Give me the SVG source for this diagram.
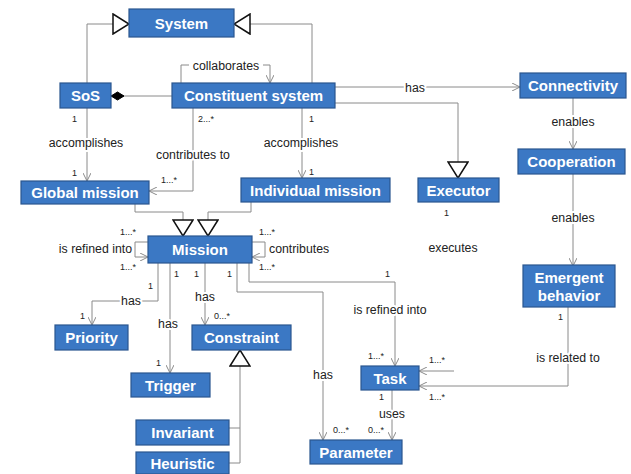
<svg xmlns="http://www.w3.org/2000/svg" width="631" height="474" viewBox="0 0 631 474">
<defs>
<style>
.box{fill:#3b78c4;stroke:#2a568f;stroke-width:1.2}
.bt{font-family:"Liberation Sans",Arial,sans-serif;font-size:15px;font-weight:bold;fill:#fff;text-anchor:middle}
.ln{fill:none;stroke:#8a8a8a;stroke-width:1}
.lb{font-family:"Liberation Sans",Arial,sans-serif;font-size:12.3px;fill:#222;paint-order:stroke;stroke:#fff;stroke-width:4px;stroke-linejoin:round}
.m{font-family:"Liberation Sans",Arial,sans-serif;font-size:9px;fill:#222}
.c{text-anchor:middle}
.r{text-anchor:end}
</style>
<marker id="arr" viewBox="0 0 8 8" refX="8" refY="4" markerWidth="8" markerHeight="8" markerUnits="userSpaceOnUse" orient="auto">
<path d="M0,0 L8,4 L0,8" fill="none" stroke="#8a8a8a" stroke-width="1"/>
</marker>
<marker id="tri" viewBox="-1 -1 18 22" refX="16" refY="10" markerWidth="18" markerHeight="22" markerUnits="userSpaceOnUse" orient="auto">
<path d="M0,0 L16,10 L0,20 Z" fill="#fff" stroke="#111" stroke-width="1.5"/>
</marker>
<marker id="dia" viewBox="-1 -1 15 10" refX="13" refY="4" markerWidth="15" markerHeight="10" markerUnits="userSpaceOnUse" orient="auto">
<path d="M0,4 L6.5,0 L13,4 L6.5,8 Z" fill="#000" stroke="#000" stroke-width="1"/>
</marker>
</defs>
<rect width="631" height="474" fill="#fff"/>

<g id="connectors">
<path class="ln" d="M87,83 V24 H129" marker-end="url(#tri)"/>
<path class="ln" d="M312,83 V24 H234" marker-end="url(#tri)"/>
<path class="ln" d="M172,96 H111" marker-end="url(#dia)"/>
<path class="ln" d="M181,83 V65 H189"/>
<path class="ln" d="M263,65 H270 V83" marker-end="url(#arr)"/>
<text class="lb c" x="226" y="70">collaborates</text>

<path class="ln" d="M87,108 V181" marker-end="url(#arr)"/>
<text class="m" x="72" y="122">1</text>
<text class="lb c" x="86" y="147">accomplishes</text>
<text class="m" x="72" y="176">1</text>

<path class="ln" d="M193,108 V191 H149" marker-end="url(#arr)"/>
<text class="m" x="198" y="122">2...*</text>
<text class="lb c" x="193" y="159">contributes to</text>
<text class="m" x="161" y="183">1...*</text>

<path class="ln" d="M302,108 V178" marker-end="url(#arr)"/>
<text class="m" x="309" y="122">1</text>
<text class="lb c" x="301" y="147">accomplishes</text>
<text class="m" x="309" y="175">1</text>

<path class="ln" d="M335,87 H520" marker-end="url(#arr)"/>
<text class="lb c" x="415" y="92">has</text>

<path class="ln" d="M335,103 H458 V178" marker-end="url(#tri)"/>

<path class="ln" d="M573,98 V149" marker-end="url(#arr)"/>
<text class="lb c" x="573" y="126">enables</text>
<path class="ln" d="M573,174 V266" marker-end="url(#arr)"/>
<text class="lb c" x="573" y="222">enables</text>

<path class="ln" d="M135,204 V212 H183 V236" marker-end="url(#tri)"/>
<path class="ln" d="M251,202 V212 H208 V236" marker-end="url(#tri)"/>

<path class="ln" d="M148,242 H135 V257 H148" marker-end="url(#arr)"/>
<text class="m" x="120" y="235">1...*</text>
<text class="m" x="120" y="270">1...*</text>
<text class="lb r" x="132" y="253">is refined into</text>

<path class="ln" d="M252,242 H265 V257 H252" marker-end="url(#arr)"/>
<text class="m" x="259" y="235">1...*</text>
<text class="m" x="259" y="270">1...*</text>
<text class="lb" x="269" y="253">contributes</text>

<path class="ln" d="M158,263 V301 H92 V325" marker-end="url(#arr)"/>
<text class="m" x="148" y="289">1</text>
<text class="lb c" x="131" y="305">has</text>
<text class="m" x="80" y="319">1</text>

<path class="ln" d="M170,263 V373" marker-end="url(#arr)"/>
<text class="m" x="174" y="277">1</text>
<text class="lb c" x="168" y="328">has</text>
<text class="m" x="156" y="366">1</text>

<path class="ln" d="M205,263 V325" marker-end="url(#arr)"/>
<text class="m" x="194" y="277">1</text>
<text class="lb c" x="205" y="301">has</text>
<text class="m" x="214" y="319">0...*</text>

<path class="ln" d="M237,263 V292 H323 V440" marker-end="url(#arr)"/>
<text class="m" x="227" y="277">1</text>
<text class="lb c" x="323" y="379">has</text>
<text class="m" x="333" y="433">0...*</text>

<path class="ln" d="M249,263 V282 H395 V366" marker-end="url(#arr)"/>
<text class="m" x="385" y="277">1</text>
<text class="lb c" x="390" y="314">is refined into</text>
<text class="m" x="368" y="359">1...*</text>

<text class="m" x="444" y="216">1</text>
<text class="lb c" x="453" y="252">executes</text>
<path class="ln" d="M454,371 H419" marker-end="url(#arr)"/>
<text class="m" x="429" y="363">1...*</text>

<path class="ln" d="M568,307 V386 H419" marker-end="url(#arr)"/>
<text class="m" x="558" y="320">1</text>
<text class="lb c" x="568" y="362">is related to</text>
<text class="m" x="429" y="400">1...*</text>

<path class="ln" d="M392,390 V440" marker-end="url(#arr)"/>
<text class="m" x="379" y="400">1</text>
<text class="lb c" x="392" y="418">uses</text>
<text class="m" x="368" y="433">0...*</text>

<path class="ln" d="M229,428 H240"/>
<path class="ln" d="M229,463 H240 V350" marker-end="url(#tri)"/>
</g>

<g id="System"><rect class="box" x="129" y="9" width="105" height="28"/><text class="bt" x="181.5" y="28.5">System</text></g>
<g id="SoS"><rect class="box" x="60" y="83" width="51" height="25"/><text class="bt" x="85.5" y="101">SoS</text></g>
<g id="ConstituentSystem"><rect class="box" x="172" y="83" width="163" height="25"/><text class="bt" x="253.5" y="101">Constituent system</text></g>
<g id="Connectivity"><rect class="box" x="520" y="73" width="106" height="25"/><text class="bt" x="573" y="91">Connectivity</text></g>
<g id="Cooperation"><rect class="box" x="518" y="149" width="107" height="25"/><text class="bt" x="571.5" y="167">Cooperation</text></g>
<g id="GlobalMission"><rect class="box" x="21" y="181" width="128" height="23"/><text class="bt" x="85" y="198">Global mission</text></g>
<g id="IndividualMission"><rect class="box" x="241" y="178" width="149" height="24"/><text class="bt" x="315.5" y="195.5">Individual mission</text></g>
<g id="Executor"><rect class="box" x="418" y="178" width="81" height="24"/><text class="bt" x="458.5" y="195.5">Executor</text></g>
<g id="Mission"><rect class="box" x="148" y="236" width="104" height="27"/><text class="bt" x="200" y="254.5">Mission</text></g>
<g id="EmergentBehavior"><rect class="box" x="523" y="265" width="92" height="42"/><text class="bt" x="569" y="283">Emergent</text><text class="bt" x="569" y="301">behavior</text></g>
<g id="Priority"><rect class="box" x="55" y="325" width="73" height="25"/><text class="bt" x="91.5" y="343">Priority</text></g>
<g id="Constraint"><rect class="box" x="192" y="325" width="99" height="25"/><text class="bt" x="241.5" y="343">Constraint</text></g>
<g id="Trigger"><rect class="box" x="131" y="373" width="79" height="24"/><text class="bt" x="170.5" y="390.5">Trigger</text></g>
<g id="Task"><rect class="box" x="361" y="366" width="58" height="24"/><text class="bt" x="390" y="383.5">Task</text></g>
<g id="Invariant"><rect class="box" x="136" y="420" width="93" height="25"/><text class="bt" x="182.5" y="438">Invariant</text></g>
<g id="Heuristic"><rect class="box" x="136" y="452" width="93" height="22"/><text class="bt" x="182.5" y="469">Heuristic</text></g>
<g id="Parameter"><rect class="box" x="310" y="440" width="92" height="24"/><text class="bt" x="356" y="457.5">Parameter</text></g>
</svg>
